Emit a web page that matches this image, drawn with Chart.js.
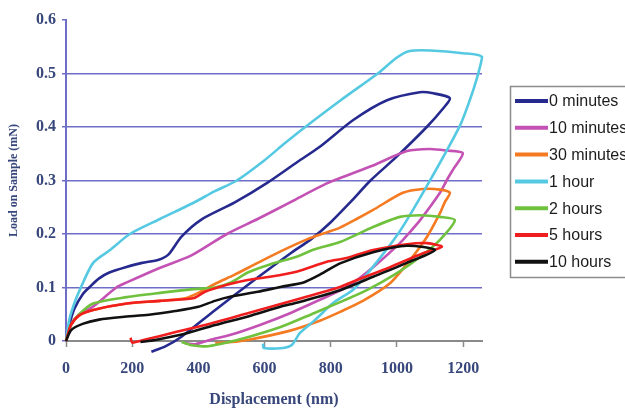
<!DOCTYPE html>
<html>
<head>
<meta charset="utf-8">
<script src="https://cdn.jsdelivr.net/npm/chart.js@4.4.1/dist/chart.umd.min.js"></script>
<style>
  html, body { margin: 0; padding: 0; background: #fff; overflow: hidden; }
</style>
</head>
<body>
<canvas id="loadChart" width="625" height="409"></canvas>
<script>
// series names and colours, same order as the legend
const seriesNames = ["0 minutes", "10 minutes", "30 minutes", "1 hour", "2 hours", "5 hours", "10 hours"];
const seriesColors = ["#262a8e", "#c452b4", "#f47b22", "#55c9e2", "#70c23e", "#f01e1e", "#111111"];

// [displacement nm, load mN]: loading then unloading
const min0 = [[0,0],[10,0.03],[25,0.06],[51,0.088],[70,0.1],[100,0.117],[131,0.128],[180,0.138],[230,0.146],[280,0.152],[310,0.162],[349,0.195],[409,0.227],[510,0.259],[609,0.296],[700,0.335],[767,0.363],[868,0.413],[970,0.45],[1069,0.465],[1110,0.463],[1160,0.454],
  [1140,0.435],[1090,0.40],[1000,0.345],[920,0.30],[860,0.26],[800,0.222],[740,0.19],[681,0.165],[582,0.12],[451,0.058],[349,0.008],[300,-0.01],[258,-0.02]];
const min10 = [[0,0],[15,0.03],[40,0.05],[81,0.064],[152,0.1],[182,0.109],[281,0.136],[379,0.16],[486,0.2],[579,0.228],[680,0.26],[790,0.295],[928,0.328],[1030,0.355],[1100,0.359],[1150,0.356],[1199,0.351],
  [1169,0.32],[1150,0.3],[1130,0.277],[1070,0.226],[1034,0.2],[1009,0.183],[928,0.138],[849,0.101],[767,0.077],[677,0.052],[586,0.03],[495,0.011],[435,0.002],[390,-0.006],[360,-0.004]];
const min30 = [[0,0],[15,0.03],[40,0.048],[82,0.058],[184,0.07],[284,0.075],[360,0.08],[400,0.09],[451,0.107],[510,0.124],[579,0.146],[650,0.168],[728,0.19],[788,0.203],[828,0.212],[878,0.228],[928,0.245],[1018,0.277],[1079,0.284],[1130,0.283],[1160,0.277],
  [1145,0.26],[1130,0.239],[1091,0.195],[1039,0.151],[979,0.108],[897,0.075],[830,0.055],[767,0.038],[669,0.018],[549,0.002],[500,-0.002],[451,-0.004]];
const hr1 = [[0,0],[10,0.04],[25,0.07],[42,0.096],[82,0.146],[133,0.17],[193,0.2],[284,0.228],[384,0.258],[450,0.28],[516,0.3],[600,0.338],[660,0.369],[723,0.4],[830,0.45],[942,0.5],[1000,0.53],[1039,0.542],[1100,0.543],[1199,0.538],[1257,0.531],
  [1241,0.49],[1220,0.45],[1190,0.402],[1097,0.297],[1003,0.2],[873,0.099],[807,0.071],[752,0.039],[707,0.015],[683,-0.007],[656,-0.013],[598,-0.013],[595,-0.005]];
const hr2 = [[0,0],[15,0.03],[40,0.05],[82,0.07],[184,0.082],[284,0.09],[384,0.097],[450,0.1],[500,0.11],[549,0.128],[616,0.143],[699,0.158],[749,0.171],[828,0.185],[928,0.213],[1009,0.232],[1070,0.235],[1130,0.232],[1175,0.226],
  [1130,0.189],[1070,0.157],[1000,0.127],[909,0.095],[837,0.075],[749,0.052],[648,0.026],[549,0.007],[470,-0.005],[421,-0.01],[380,-0.008],[349,-0.002]];
const hr5 = [[0,0],[15,0.03],[40,0.048],[82,0.058],[184,0.07],[284,0.075],[384,0.08],[420,0.092],[486,0.105],[549,0.114],[616,0.12],[699,0.13],[788,0.148],[848,0.155],[928,0.17],[1030,0.181],[1091,0.183],[1136,0.176],
  [1079,0.164],[979,0.138],[879,0.114],[828,0.101],[700,0.078],[549,0.052],[420,0.03],[320,0.015],[250,0.004],[210,-0.002],[200,-0.003],[195,0.006]];
const hr10 = [[0,0],[15,0.02],[50,0.032],[100,0.04],[170,0.045],[251,0.049],[330,0.056],[400,0.064],[450,0.075],[499,0.083],[580,0.092],[648,0.101],[720,0.11],[767,0.124],[828,0.145],[928,0.166],[1030,0.178],[1115,0.17],
  [1030,0.146],[928,0.12],[828,0.095],[700,0.072],[648,0.064],[550,0.046],[451,0.03],[350,0.012],[270,0.002],[225,-0.002]];

const allSeries = [min0, min10, min30, hr1, hr2, hr5, hr10];
const xTicks = [0, 200, 400, 600, 800, 1000, 1200];
const yTicks = [0, 0.1, 0.2, 0.3, 0.4, 0.5, 0.6];

const gridBlue = "#6e6ec8";
const labelColor = "#37477b";
const serif = '"Liberation Serif", "Times New Roman", serif';

// legend box on the right, cut off by the canvas edge like the original
const legendBox = {
    id: "legendBox",
    afterDraw(chart) {
        const ctx = chart.ctx;
        ctx.save();
        ctx.strokeStyle = "#8c8c8c";
        ctx.lineWidth = 1.5;
        ctx.strokeRect(510.5, 86.5, 220, 191);
        ctx.font = '16px "Liberation Sans", Arial, sans-serif';
        ctx.textBaseline = "middle";
        seriesNames.forEach((name, i) => {
            const y = 101 + i * 26.8;
            ctx.strokeStyle = seriesColors[i];
            ctx.lineWidth = 4;
            ctx.beginPath();
            ctx.moveTo(515, y);
            ctx.lineTo(548, y);
            ctx.stroke();
            ctx.fillStyle = "#1c1c1c";
            ctx.fillText(name, 549, y + 1);
        });
        ctx.restore();
    }
};

new Chart(document.getElementById("loadChart"), {
    type: "scatter",
    data: {
        datasets: allSeries.map((pts, i) => ({
            label: seriesNames[i],
            data: pts.map(p => ({ x: p[0], y: p[1] })),
            showLine: true,
            borderColor: seriesColors[i],
            backgroundColor: seriesColors[i],
            borderWidth: 2.6,
            pointRadius: 0,
            tension: 0.25,
            clip: false,
            order: allSeries.length - 1 - i
        }))
    },
    options: {
        responsive: false,
        animation: false,
        devicePixelRatio: 1,
        layout: { padding: { left: 0, right: 143, top: 20, bottom: 0 } },
        plugins: {
            legend: { display: false },
            tooltip: { enabled: false }
        },
        scales: {
            x: {
                type: "linear",
                position: "bottom",
                min: 0,
                max: 1257,
                afterBuildTicks: s => { s.ticks = xTicks.map(v => ({ value: v })); },
                afterFit: s => { s.height = 68; },
                grid: { drawOnChartArea: false, drawTicks: true, tickLength: 6, tickColor: "#8a8a8a", tickWidth: 1.5 },
                border: { color: "#8a8a8a", width: 2 },
                ticks: {
                    color: labelColor,
                    font: { family: serif, size: 16, weight: "bold" },
                    padding: 12,
                    maxRotation: 0,
                    autoSkip: false,
                    callback: v => String(v)
                },
                title: {
                    display: true,
                    text: "Displacement (nm)",
                    color: labelColor,
                    font: { family: serif, size: 16, weight: "bold" },
                    padding: { top: 0, bottom: 0 }
                }
            },
            y: {
                min: 0,
                max: 0.6,
                afterBuildTicks: s => { s.ticks = yTicks.map(v => ({ value: v })); },
                afterFit: s => { s.width = 66; },
                grid: {
                    color: c => (c.tick && (c.tick.value === 0 || c.tick.value === 0.6)) ? "rgba(0,0,0,0)" : gridBlue,
                    lineWidth: 1.5,
                    tickLength: 4,
                    tickColor: gridBlue
                },
                border: { color: gridBlue, width: 2 },
                ticks: {
                    color: labelColor,
                    font: { family: serif, size: 16, weight: "bold" },
                    padding: 6,
                    callback: v => String(v)
                },
                title: {
                    display: true,
                    text: "Load on Sample (mN)",
                    color: labelColor,
                    font: { family: serif, size: 12, weight: "bold" },
                    padding: { top: 7, bottom: 0 }
                }
            }
        }
    },
    plugins: [legendBox]
});
</script>
</body>
</html>
